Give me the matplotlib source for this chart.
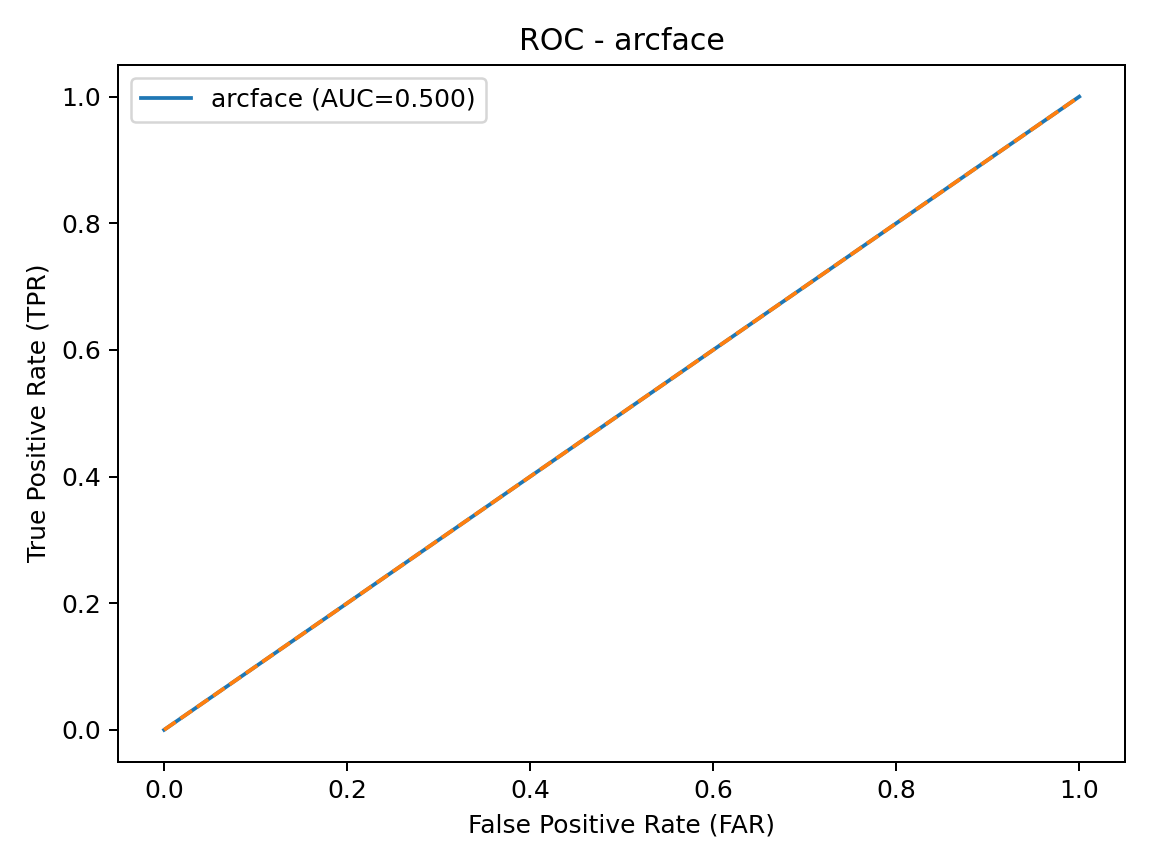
import matplotlib
matplotlib.use("Agg")
import matplotlib.pyplot as plt

model_name = "arcface"
fpr = [0.0, 1.0]
tpr = [0.0, 1.0]
auc_value = 0.500
chance_x = [0.0, 1.0]
chance_y = [0.0, 1.0]

fig, ax = plt.subplots(figsize=(6.4, 4.8), dpi=180)
ax.plot(fpr, tpr, label=f"{model_name} (AUC={auc_value:.3f})")
ax.plot(chance_x, chance_y, "--")
ax.set_xlabel("False Positive Rate (FAR)")
ax.set_ylabel("True Positive Rate (TPR)")
ax.set_title(f"ROC - {model_name}")
ax.legend(loc="upper left")
fig.tight_layout()
fig.savefig("out.png", dpi=180)
